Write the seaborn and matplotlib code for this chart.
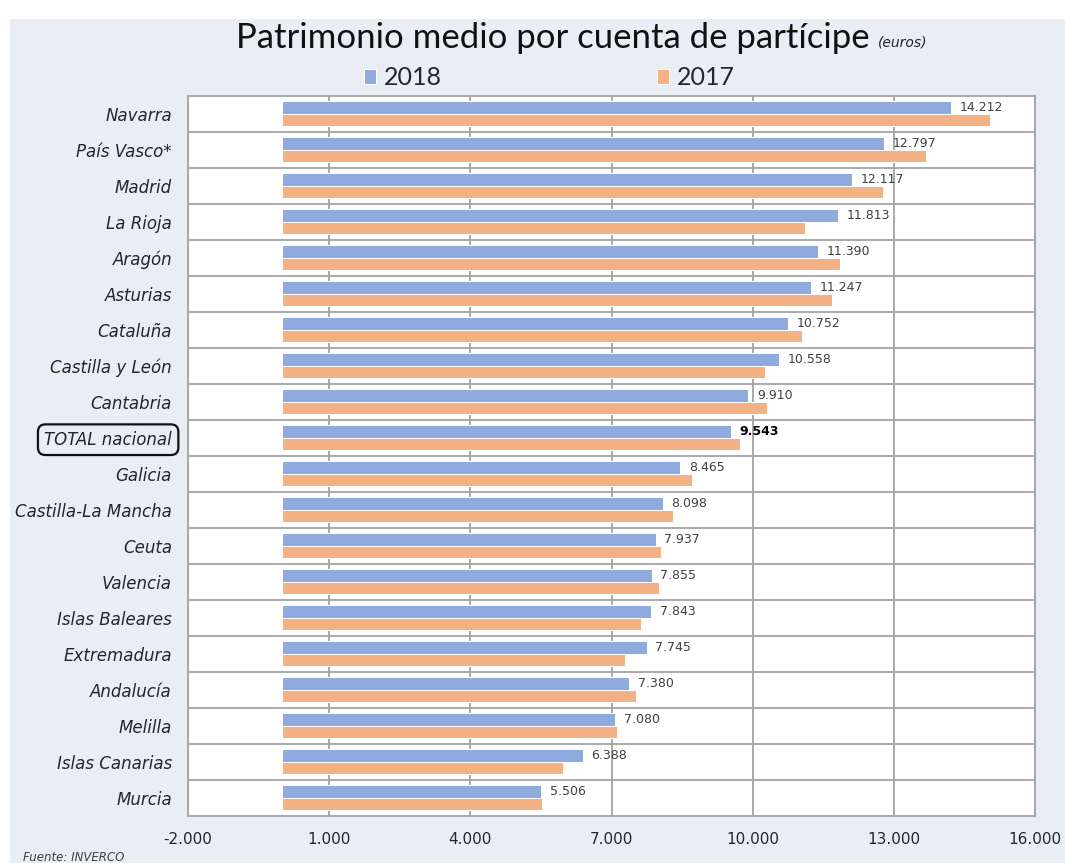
import matplotlib
matplotlib.use("Agg")
import matplotlib.pyplot as plt
import seaborn as sns
import pandas as pd
import numpy as np
from matplotlib.ticker import FuncFormatter, FixedLocator
from matplotlib.patches import Rectangle

# ---------------- data ----------------
regions = ["Navarra", "País Vasco*", "Madrid", "La Rioja", "Aragón", "Asturias",
           "Cataluña", "Castilla y León", "Cantabria", "TOTAL nacional", "Galicia",
           "Castilla-La Mancha", "Ceuta", "Valencia", "Islas Baleares", "Extremadura",
           "Andalucía", "Melilla", "Islas Canarias", "Murcia"]
v2018 = [14212, 12797, 12117, 11813, 11390, 11247, 10752, 10558, 9910, 9543,
         8465, 8098, 7937, 7855, 7843, 7745, 7380, 7080, 6388, 5506]
v2017 = [15045, 13680, 12760, 11110, 11855, 11690, 11040, 10265, 10300, 9740,
         8710, 8300, 8060, 8015, 7630, 7290, 7530, 7110, 5975, 5515]
series = ["2018", "2017"]
x_ticks = [-2000, 1000, 4000, 7000, 10000, 13000, 16000]
title = "Patrimonio medio por cuenta de partícipe"
subtitle = "(euros)"
source = "Fuente: INVERCO"
highlight = "TOTAL nacional"

# ---------------- style ----------------
BLUE = "#8faadc"
ORANGE = "#f4b183"
GRID = "#a3a3a3"
BG = "#e9edf4"
NARROW = ["Lato", "DejaVu Sans"]

sns.set_theme(style="white")
plt.rcParams["font.family"] = ["DejaVu Sans"]

W, H = 1065, 863
fig = plt.figure(figsize=(W / 100, H / 100), dpi=100)
fig.patch.set_facecolor("white")
fig.patches.append(Rectangle((10 / W, 0), 1 - 10 / W, 1 - 19 / H, transform=fig.transFigure,
                             facecolor=BG, edgecolor="none", zorder=-10))

ax = fig.add_axes([188 / W, 1 - 815.7 / H, (1035 - 188) / W, (815.7 - 95.7) / H])
ax.set_facecolor("white")

df = pd.DataFrame({
    "region": regions * 2,
    "value": v2018 + v2017,
    "year": [series[0]] * len(regions) + [series[1]] * len(regions),
})

sns.barplot(data=df, y="region", x="value", hue="year", order=regions,
            hue_order=series, palette=[BLUE, ORANGE], saturation=1, width=0.7,
            orient="h", errorbar=None, edgecolor="white", linewidth=0.7, ax=ax)

fmt = lambda v: f"{int(v):,}".replace(",", ".")

ax.set_xlim(x_ticks[0], x_ticks[-1])
ax.xaxis.set_major_locator(FixedLocator(x_ticks))
ax.xaxis.set_major_formatter(FuncFormatter(lambda v, p: fmt(v)))
ax.set_ylim(len(regions) - 0.5, -0.5)
ax.set_yticks(np.arange(0.5, len(regions) - 0.5, 1), minor=True)

ax.set_axisbelow(True)
ax.grid(False)
ax.xaxis.grid(True, which="major", color=GRID, lw=1.3)
ax.yaxis.grid(True, which="minor", color=GRID, lw=1.3)
for s in ax.spines.values():
    s.set_visible(True)
    s.set_color(GRID)
    s.set_linewidth(1.3)

ax.set_xlabel("")
ax.set_ylabel("")
ax.tick_params(axis="x", length=0, pad=12, labelsize=11, labelcolor="#262626")
ax.tick_params(axis="y", which="both", length=0, pad=11.5, labelsize=12, labelcolor="#262626")
for lab in ax.get_yticklabels():
    lab.set_fontstyle("italic")
    if lab.get_text() == highlight:
        lab.set_bbox(dict(boxstyle="round,pad=0.38,rounding_size=0.45", fc="none",
                          ec="#111111", lw=1.6))

# data labels on 2018 bars
texts = ax.bar_label(ax.containers[0], labels=[fmt(v) for v in v2018], padding=6,
                     fontsize=9, color="#404040")
for r, t in zip(regions, texts):
    if r == highlight:
        t.set_fontweight("bold")
        t.set_color("black")

# legend
sns.move_legend(ax, "center", bbox_to_anchor=((549 - 188) / 847, 1 + (95.7 - 78) / 720),
                ncol=2, frameon=False, title=None, handlelength=0.5, handleheight=0.5,
                handletextpad=0.3, columnspacing=8.6,
                prop={"family": NARROW, "size": 18})

# title
t_main = fig.text(553 / W, 1 - 38 / H, title, ha="center", va="center",
                  family=NARROW, fontsize=25, color="#111111")
ax.annotate(subtitle, xy=(1, 0), xycoords=t_main, xytext=(6, 3), textcoords="offset points",
            ha="left", va="bottom", fontsize=10, fontstyle="italic", color="#222222")

fig.text(23 / W, 1 - 857 / H, source, ha="left", va="center", fontsize=8.5,
         fontstyle="italic", color="#404040")

fig.savefig("out.png", dpi=100, facecolor=fig.get_facecolor())
